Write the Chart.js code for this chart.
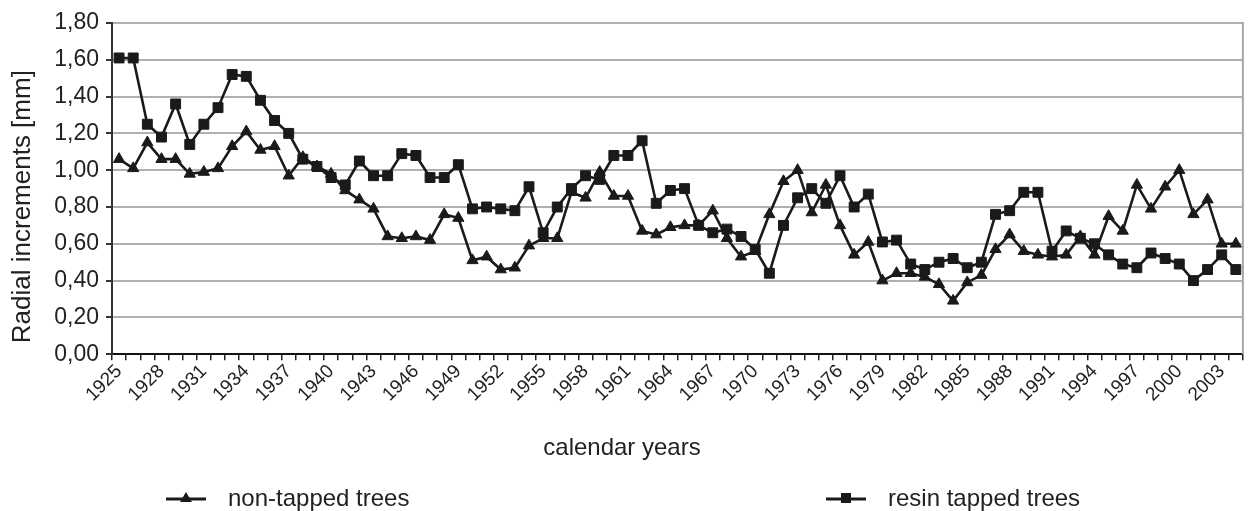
<!DOCTYPE html>
<html>
<head>
<meta charset="utf-8">
<title>Radial increments</title>
<script src="https://cdn.jsdelivr.net/npm/chart.js@4.4.1/dist/chart.umd.min.js"></script>
<style>
    body { margin: 0; background: #fff; }
    #wrap { position: relative; width: 1252px; height: 511px; }
    #legend .item { position: absolute; top: 486px; height: 24px; display: flex; align-items: center; }
    #legend .item span {
        font-family: "Liberation Sans", Arial, sans-serif;
        font-size: 24px;
        line-height: 24px;
        color: #222;
        margin-left: 22px;
    }
</style>
</head>
<body>
<div id="wrap">
    <canvas id="chart"></canvas>
    <div id="legend"></div>
</div>
<script>
// Data
const years = [
    '1925','1926','1927','1928','1929','1930','1931','1932','1933','1934',
    '1935','1936','1937','1938','1939','1940','1941','1942','1943','1944',
    '1945','1946','1947','1948','1949','1950','1951','1952','1953','1954',
    '1955','1956','1957','1958','1959','1960','1961','1962','1963','1964',
    '1965','1966','1967','1968','1969','1970','1971','1972','1973','1974',
    '1975','1976','1977','1978','1979','1980','1981','1982','1983','1984',
    '1985','1986','1987','1988','1989','1990','1991','1992','1993','1994',
    '1995','1996','1997','1998','1999','2000','2001','2002','2003','2004'
];

const nonTapped = [
    1.06, 1.01, 1.15, 1.06, 1.06, 0.98, 0.99, 1.01, 1.13, 1.21,
    1.11, 1.13, 0.97, 1.07, 1.02, 0.98, 0.89, 0.84, 0.79, 0.64,
    0.63, 0.64, 0.62, 0.76, 0.74, 0.51, 0.53, 0.46, 0.47, 0.59,
    0.63, 0.63, 0.88, 0.85, 0.99, 0.86, 0.86, 0.67, 0.65, 0.69,
    0.70, 0.70, 0.78, 0.63, 0.53, 0.56, 0.76, 0.94, 1.00, 0.77,
    0.92, 0.70, 0.54, 0.61, 0.40, 0.44, 0.44, 0.42, 0.38, 0.29,
    0.39, 0.43, 0.57, 0.65, 0.56, 0.54, 0.53, 0.54, 0.64, 0.54,
    0.75, 0.67, 0.92, 0.79, 0.91, 1.00, 0.76, 0.84, 0.60, 0.60
];

const resinTapped = [
    1.61, 1.61, 1.25, 1.18, 1.36, 1.14, 1.25, 1.34, 1.52, 1.51,
    1.38, 1.27, 1.20, 1.06, 1.02, 0.96, 0.92, 1.05, 0.97, 0.97,
    1.09, 1.08, 0.96, 0.96, 1.03, 0.79, 0.80, 0.79, 0.78, 0.91,
    0.66, 0.80, 0.90, 0.97, 0.95, 1.08, 1.08, 1.16, 0.82, 0.89,
    0.90, 0.70, 0.66, 0.68, 0.64, 0.57, 0.44, 0.70, 0.85, 0.90,
    0.82, 0.97, 0.80, 0.87, 0.61, 0.62, 0.49, 0.46, 0.50, 0.52,
    0.47, 0.50, 0.76, 0.78, 0.88, 0.88, 0.56, 0.67, 0.63, 0.60,
    0.54, 0.49, 0.47, 0.55, 0.52, 0.49, 0.40, 0.46, 0.54, 0.46
];

// Years that get a label on the x axis
const xTickYears = [
    '1925','1928','1931','1934','1937','1940','1943','1946','1949','1952',
    '1955','1958','1961','1964','1967','1970','1973','1976','1979','1982',
    '1985','1988','1991','1994','1997','2000','2003'
];

const FONT = '"Liberation Sans", Arial, sans-serif';
const INK = '#1a1a1a';

// Grey frame line on the right side of the plot area
const plotFrame = {
    id: 'plotFrame',
    beforeDatasetsDraw(chart) {
        const { ctx, chartArea: a } = chart;
        ctx.save();
        ctx.strokeStyle = '#a8a8a8';
        ctx.lineWidth = 2;
        ctx.beginPath();
        ctx.moveTo(a.right, a.top - 1);
        ctx.lineTo(a.right, a.bottom);
        ctx.stroke();
        ctx.restore();
    }
};

const chart = new Chart(document.getElementById('chart'), {
    type: 'line',
    data: {
        labels: years,
        datasets: [
            {
                label: 'non-tapped trees',
                data: nonTapped,
                borderColor: INK,
                backgroundColor: INK,
                borderWidth: 2.6,
                pointStyle: 'triangle',
                pointRadius: 6.5,
                pointBorderWidth: 1,
                pointBackgroundColor: INK,
                tension: 0,
                order: 1
            },
            {
                label: 'resin tapped trees',
                data: resinTapped,
                borderColor: INK,
                backgroundColor: INK,
                borderWidth: 2.6,
                pointStyle: 'rect',
                pointRadius: 7,
                pointBorderWidth: 1,
                pointBackgroundColor: INK,
                tension: 0,
                order: 0
            }
        ]
    },
    options: {
        responsive: true,
        maintainAspectRatio: false,
        animation: false,
        layout: { padding: { top: 23, right: 8, bottom: 0, left: 0 } },
        plugins: {
            legend: { display: false },
            tooltip: { enabled: false },
            title: {
                display: true,
                text: 'calendar years',
                position: 'bottom',
                color: '#222',
                font: { family: FONT, size: 24, weight: 'normal' },
                padding: { top: 20, bottom: 48 }
            }
        },
        scales: {
            x: {
                offset: true,
                afterFit(scale) { scale.height = 60; },
                grid: {
                    display: true,
                    offset: true,
                    drawOnChartArea: false,
                    drawTicks: true,
                    tickLength: 6,
                    tickColor: '#222',
                    lineWidth: 1.5
                },
                border: { display: true, color: '#111', width: 2 },
                ticks: {
                    autoSkip: false,
                    maxRotation: 45,
                    minRotation: 45,
                    padding: 0,
                    color: '#222',
                    font: { family: FONT, size: 19 },
                    callback: function(value, index) {
                        const y = years[index];
                        return xTickYears.includes(y) ? y : '';
                    }
                }
            },
            y: {
                min: 0,
                max: 1.8,
                afterFit(scale) { scale.width = 112; },
                grid: {
                    color: '#b0b0b0',
                    lineWidth: 2,
                    drawTicks: true,
                    tickLength: 6,
                    tickColor: '#333'
                },
                border: { display: true, color: '#333', width: 2 },
                ticks: {
                    stepSize: 0.2,
                    padding: 7,
                    color: '#222',
                    font: { family: FONT, size: 23 },
                    callback: function(value) {
                        return value.toFixed(2).replace('.', ',');
                    }
                },
                title: {
                    display: true,
                    // trailing spaces push the visible words a little lower, as in the figure
                    text: 'Radial increments [mm]     ',
                    color: '#222',
                    font: { family: FONT, size: 26, weight: 'normal' },
                    padding: { top: 7, bottom: 0 }
                }
            }
        }
    },
    plugins: [plotFrame]
});

// Legend: line with marker, like the original figure
const legendPlaces = [166, 826];
const legend = document.getElementById('legend');
legend.innerHTML = chart.data.datasets.map((ds, i) => {
    const marker = ds.pointStyle === 'triangle'
        ? '<polygon points="20,6 26,16 14,16" fill="' + INK + '"/>'
        : '<rect x="15" y="7" width="10" height="10" fill="' + INK + '"/>';
    return `
        <div class="item" style="left: ${legendPlaces[i]}px">
            <svg width="40" height="24" viewBox="0 0 40 24">
                <line x1="0" y1="13" x2="40" y2="13" stroke="${INK}" stroke-width="3"/>
                ${marker}
            </svg>
            <span>${ds.label}</span>
        </div>
    `;
}).join('');
</script>
</body>
</html>
